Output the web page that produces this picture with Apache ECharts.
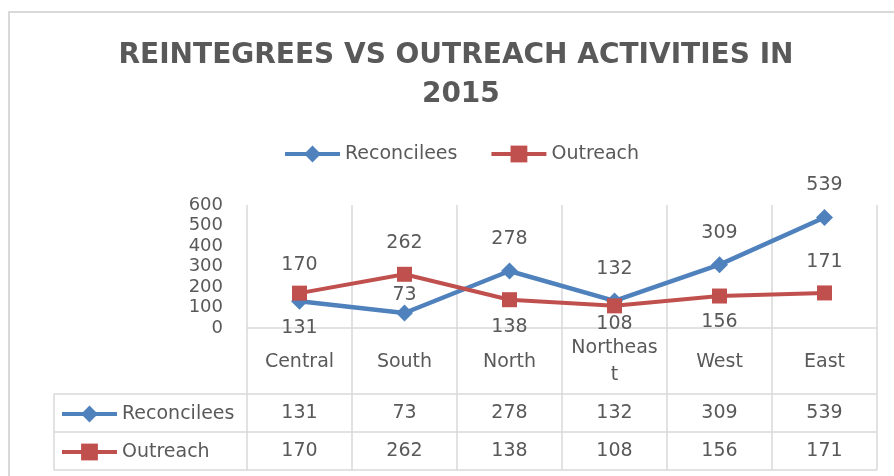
<!DOCTYPE html>
<html><head><meta charset="utf-8">
<script src="https://cdn.jsdelivr.net/npm/echarts@6/dist/echarts.min.js"></script>
<style>html,body{margin:0;padding:0;background:#fff}#c{width:894px;height:476px}</style>
</head><body><div id="c"></div>
<script>
const titleText = 'REINTEGREES VS OUTREACH ACTIVITIES IN 2015';
const categories = ['Central', 'South', 'North', 'Northeast', 'West', 'East'];
const reconcilees = [131, 73, 278, 132, 309, 539];
const outreach = [170, 262, 138, 108, 156, 171];
const yTicks = { min: 0, max: 600, interval: 100 };
// label placement (style, kept separate from data)
const reconLabelPos = ['bottom', 'top', 'top', 'top', 'top', 'top'];
const reconLabelDist = [9, 0, 14, 14, 14, 14];
const outLabelPos = ['top', 'top', 'bottom', 'bottom', 'bottom', 'top'];
const outLabelDist = [11, 14, 10, 1, 9, 14];

const FONT = 'DejaVu Sans';
const GRAY = '#595959';
const LINE = '#d9d9d9';
const BLUE = '#4F81BD';
const RED = '#C0504D';

function labelled(values, positions, dists) {
  return values.map((v, i) => ({
    value: v,
    label: { position: positions[i], distance: dists[i] }
  }));
}

const legendCommon = {
  data: ['Reconcilees', 'Outreach'],
  itemWidth: 55, itemHeight: 21,
  lineStyle: { width: 4 },
  textStyle: { fontFamily: FONT, fontSize: 19, color: GRAY, lineHeight: 20 }
};

const chart = echarts.init(document.getElementById('c'), null, { renderer: 'canvas' });
chart.setOption({
  animation: false,
  backgroundColor: '#fff',
  legend: [Object.assign({}, legendCommon, {
    left: 283, top: 144, padding: 0, itemGap: 32
  }), Object.assign({}, legendCommon, {
    orient: 'vertical', left: 60, top: 404, padding: 0, itemGap: 18
  })],
  grid: { left: 247, top: 205, width: 630, height: 123, containLabel: false },
  xAxis: {
    type: 'category', data: categories, boundaryGap: true,
    axisLine: { show: true, lineStyle: { color: LINE, width: 1.5 } },
    axisTick: { show: false },
    splitLine: { show: true, lineStyle: { color: LINE, width: 1.5 } },
    axisLabel: {
      interval: 0, margin: 34, verticalAlign: 'middle', lineHeight: 27,
      width: 90, overflow: 'breakAll',
      fontFamily: FONT, fontSize: 19, color: GRAY
    }
  },
  yAxis: {
    type: 'value', min: yTicks.min, max: yTicks.max, interval: yTicks.interval,
    axisLine: { show: false }, axisTick: { show: false }, splitLine: { show: false },
    axisLabel: { margin: 24, fontFamily: FONT, fontSize: 18, color: GRAY }
  },
  series: [{
    name: 'Reconcilees', type: 'line', data: labelled(reconcilees, reconLabelPos, reconLabelDist),
    symbol: 'diamond', symbolSize: 17,
    lineStyle: { color: BLUE, width: 4.5 }, itemStyle: { color: BLUE },
    label: { show: true, fontFamily: FONT, fontSize: 19, color: GRAY },
    z: 3
  }, {
    name: 'Outreach', type: 'line', data: labelled(outreach, outLabelPos, outLabelDist),
    symbol: 'rect', symbolSize: 15,
    lineStyle: { color: RED, width: 4 }, itemStyle: { color: RED },
    label: { show: true, fontFamily: FONT, fontSize: 19, color: GRAY },
    z: 4
  }, {
    type: 'custom', silent: true, clip: false,
    data: categories.map((c, i) => [i, reconcilees[i], outreach[i]]),
    encode: { x: 0, y: 1 },
    renderItem: function (params, api) {
      const i = api.value(0);
      const p = api.coord([i, 0]);
      const bw = api.size([1, 0])[0];
      const x0 = p[0] - bw / 2, x1 = p[0] + bw / 2, y0 = p[1];
      const ls = { stroke: LINE, lineWidth: 1.5 };
      const left = i === 0 ? 54 : x0;
      const kids = [
        { type: 'line', shape: { x1: x1, y1: y0, x2: x1, y2: y0 + 142 }, style: ls },
        { type: 'line', shape: { x1: left, y1: y0 + 66, x2: x1, y2: y0 + 66 }, style: ls },
        { type: 'line', shape: { x1: left, y1: y0 + 104, x2: x1, y2: y0 + 104 }, style: ls },
        { type: 'line', shape: { x1: left, y1: y0 + 142, x2: x1, y2: y0 + 142 }, style: ls },
        { type: 'text', x: p[0], y: y0 + 85, style: { text: String(api.value(1)), align: 'center', verticalAlign: 'middle', font: '19px "DejaVu Sans"', fill: GRAY } },
        { type: 'text', x: p[0], y: y0 + 123, style: { text: String(api.value(2)), align: 'center', verticalAlign: 'middle', font: '19px "DejaVu Sans"', fill: GRAY } }
      ];
      if (i === 0) {
        kids.push({ type: 'line', shape: { x1: x0, y1: y0, x2: x0, y2: y0 + 142 }, style: ls });
        kids.push({ type: 'line', shape: { x1: 54, y1: y0 + 66, x2: 54, y2: y0 + 142 }, style: ls });
      }
      return { type: 'group', children: kids };
    },
    z: 1
  }],
  graphic: [{
    type: 'rect', shape: { x: 9, y: 12, width: 900, height: 480 },
    style: { fill: 'none', stroke: LINE, lineWidth: 2 }, silent: true, z: -1
  }, {
    type: 'text', x: 456, y: 36, silent: true,
    style: {
      text: titleText, width: 700, overflow: 'break',
      align: 'center', verticalAlign: 'top', lineHeight: 39,
      font: 'bold 28px "DejaVu Sans"', fill: GRAY
    }
  }]
});
</script></body></html>
